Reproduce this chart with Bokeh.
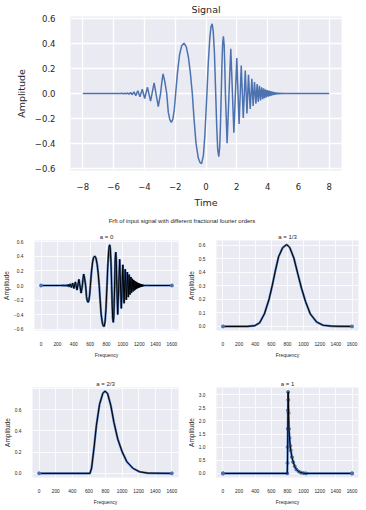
from bokeh.plotting import figure
from bokeh.layouts import column, row
from bokeh.models import Div, Spacer, FixedTicker, CustomJSTickFormatter
from bokeh.embed import file_html
from bokeh.resources import INLINE

# ---------------- data ----------------
# input signal: time (s) and amplitude at readable knots (extrema / crossings)
sig_t = [-8.0, -5.6,
         -5.43, -5.35, -5.27, -5.18, -5.09, -5.00, -4.90, -4.79, -4.68, -4.56,
         -4.43, -4.29, -4.14, -3.98, -3.80, -3.60, -3.37, -3.10,
         -2.95, -2.88, -2.79, -2.68, -2.55,
         -2.45, -2.35, -2.25, -2.15, -2.06, -1.97,
         -1.85, -1.72, -1.58, -1.43, -1.28, -1.14, -1.01, -0.89,
         -0.78, -0.65, -0.50, -0.39, -0.29, -0.17, -0.07, 0.06,
         0.15, 0.25, 0.33, 0.40, 0.47, 0.55, 0.63,
         0.70, 0.76, 0.83, 0.89, 0.94, 0.99,
         1.04, 1.08, 1.13, 1.18, 1.22, 1.26,
         1.37, 1.61, 1.81, 2.00, 2.15, 2.29, 2.42, 2.55, 2.66, 2.76, 2.87,
         2.98, 3.06, 3.15, 3.24, 3.32, 3.39, 3.47, 3.54, 3.61, 3.68, 3.74,
         3.80, 3.86, 3.92, 3.98, 4.04, 4.09, 4.15, 4.20, 4.25, 4.30, 4.35,
         4.40, 4.45, 4.50, 4.55, 4.60, 4.65, 4.70, 4.75, 4.80, 4.85, 4.90,
         4.95, 5.00, 5.05, 5.10, 8.0]
sig_y = [0.0, 0.0,
         0.0012, -0.0018, 0.0025, -0.0035, 0.0045, -0.006, 0.008, -0.010, 0.013, -0.017,
         0.022, -0.027, 0.034, -0.040, 0.050, -0.062, 0.085, -0.105,
         0.0, 0.08, 0.158, 0.10, 0.0,
         -0.15, -0.21, -0.232, -0.205, -0.13, 0.0,
         0.17, 0.31, 0.385, 0.405, 0.375, 0.29, 0.16, 0.0,
         -0.20, -0.40, -0.52, -0.556, -0.564, -0.50, -0.33, 0.0,
         0.25, 0.45, 0.54, 0.561, 0.50, 0.32, 0.0,
         -0.28, -0.45, -0.508, -0.43, -0.25, 0.0,
         0.25, 0.40, 0.46, 0.39, 0.22, 0.0,
         -0.40, 0.36, -0.315, 0.285, -0.245, 0.225, -0.198, 0.185, -0.16, 0.15, -0.125,
         0.118, -0.10, 0.093, -0.082, 0.076, -0.067, 0.062, -0.055, 0.05, -0.045, 0.041,
         -0.037, 0.034, -0.031, 0.028, -0.025, 0.023, -0.021, 0.019, -0.017, 0.015, -0.013,
         0.012, -0.011, 0.009, -0.008, 0.007, -0.006, 0.005, -0.0045, 0.004, -0.003, 0.0025,
         -0.002, 0.0015, -0.001, 0.0, 0.0]

# sample index of the input signal (100 samples per second, starting at t = -8)
samples_per_s = 100
t_start = -8.0

# |Frft|, a = 1/3
f13_x = [0, 300, 396, 455, 514, 573, 612, 651, 690, 741, 790, 828, 879, 926,
         973, 1024, 1082, 1161, 1240, 1340, 1450, 1600]
f13_y = [0.0, 0.0, 0.006, 0.027, 0.093, 0.204, 0.305, 0.416, 0.516, 0.583, 0.605,
         0.583, 0.505, 0.393, 0.283, 0.183, 0.093, 0.033, 0.009, 0.003, 0.001, 0.0]

# |Frft|, a = 2/3
f23_x = [0, 613, 632, 663, 690, 728, 767, 794, 825, 864, 902, 948, 999, 1057,
         1133, 1210, 1307, 1600]
f23_y = [0.0, 0.0, 0.049, 0.25, 0.45, 0.65, 0.753, 0.776, 0.753, 0.64, 0.48,
         0.322, 0.207, 0.11, 0.047, 0.015, 0.003, 0.0]

# |Frft|, a = 1
f1_x = [0, 797, 800, 802, 804, 806, 808, 810, 813, 818, 825, 833, 840, 855, 871,
        890, 910, 940, 968, 1000, 1030, 1600]
f1_y = [0.0, 0.0, 0.4, 1.0, 1.7, 2.4, 3.1, 2.8, 2.3, 1.7, 1.35, 1.05, 0.88, 0.62,
        0.43, 0.27, 0.15, 0.07, 0.03, 0.01, 0.0, 0.0]

sig_xticks = [-8, -6, -4, -2, 0, 2, 4, 6, 8]
sig_yticks = [-0.6, -0.4, -0.2, 0.0, 0.2, 0.4, 0.6]
freq_ticks = [0, 200, 400, 600, 800, 1000, 1200, 1400, 1600]
a0_yticks = [-0.6, -0.4, -0.2, 0.0, 0.2, 0.4, 0.6]
a13_yticks = [0.0, 0.1, 0.2, 0.3, 0.4, 0.5, 0.6]
a23_yticks = [0.0, 0.2, 0.4, 0.6, 0.8]
a1_yticks = [0.0, 0.5, 1.0, 1.5, 2.0, 2.5, 3.0]

# ---------------- styling ----------------
BG = "#EAEAF2"
BLUE = "#4C72B0"
TXT = "#262626"
F_TOP = "DejaVu Sans"
F_SUB = "Liberation Sans"

fmt1 = CustomJSTickFormatter(code="return tick.toFixed(1).replace('-', '\u2212');")
fmt0 = CustomJSTickFormatter(code="return tick.toFixed(0).replace('-', '\u2212');")


def style(p, font, tick_size, label_size, grid_w):
    p.background_fill_color = BG
    p.border_fill_color = "white"
    p.outline_line_color = None
    for ax in (p.xaxis[0], p.yaxis[0]):
        ax.axis_line_color = None
        ax.major_tick_line_color = None
        ax.minor_tick_line_color = None
        ax.major_label_text_font = font
        ax.major_label_text_font_size = tick_size
        ax.major_label_text_color = TXT
        ax.axis_label_text_font = font
        ax.axis_label_text_font_size = label_size
        ax.axis_label_text_font_style = "normal"
        ax.axis_label_text_color = TXT
    p.xgrid.grid_line_color = "white"
    p.ygrid.grid_line_color = "white"
    p.xgrid.grid_line_width = grid_w
    p.ygrid.grid_line_width = grid_w
    p.title.text_font = font
    p.title.text_font_style = "normal"
    p.title.text_color = TXT
    p.title.align = "center"


# ---------------- top: input signal ----------------
top = figure(width=360, height=210, output_backend="svg", toolbar_location=None,
             x_range=(-8.8, 8.8), y_range=(-0.62, 0.62), title="Signal",
             min_border_left=70, min_border_right=19, min_border_top=15,
             min_border_bottom=33)
style(top, F_TOP, "8.5px", "9.5px", 1.3)
top.title.text_font_size = "9.5px"
top.title.standoff = 3
top.xaxis[0].major_label_standoff = 6
top.xaxis[0].axis_label_standoff = 4
top.yaxis[0].major_label_standoff = 9
top.yaxis[0].axis_label_standoff = 5
top.xaxis[0].ticker = FixedTicker(ticks=sig_xticks)
top.yaxis[0].ticker = FixedTicker(ticks=sig_yticks)
top.xaxis[0].formatter = fmt0
top.yaxis[0].formatter = fmt1
top.xaxis[0].axis_label = "Time"
top.yaxis[0].axis_label = "Amplitude"
top.line(sig_t, sig_y, line_color=BLUE, line_width=1.5)

suptitle = Div(text="Frft of input signal with different fractional fourier orders",
               width=364, height=20, margin=0,
               styles={"font-size": "6px", "font-family": F_SUB,
                       "text-align": "center", "color": TXT, "width": "364px",
                       "line-height": "22px"})


def sub(title, x, y, yr, yticks, left, right, top_b, bottom, frame_w, frame_h,
        dots=False, hide=None):
    f = figure(width=left + frame_w + right, height=top_b + frame_h + bottom,
               output_backend="svg", toolbar_location=None,
               x_range=(-80, 1680), y_range=yr, title=title,
               min_border_left=left, min_border_right=right,
               min_border_top=top_b, min_border_bottom=bottom)
    style(f, F_SUB, "4.8px", "5px", 0.8)
    f.title.text_font_size = "6px"
    f.title.standoff = 1.5
    f.xaxis[0].major_label_standoff = 5
    f.xaxis[0].axis_label_standoff = 3
    f.yaxis[0].major_label_standoff = 5
    f.yaxis[0].axis_label_standoff = 1
    f.xaxis[0].ticker = FixedTicker(ticks=freq_ticks)
    f.yaxis[0].ticker = FixedTicker(ticks=yticks)
    f.yaxis[0].formatter = fmt1
    f.xaxis[0].axis_label = "Frequency"
    f.yaxis[0].axis_label = "Amplitude"
    f.yaxis[0].axis_label_text_font_size = "6.5px"
    if hide is not None:
        f.yaxis[0].major_label_overrides = {hide: ""}
    f.line(x, y, line_color=BLUE, line_width=2.2)
    if dots:
        f.scatter(x, y, size=3.0, color=BLUE)
    f.line(x, y, line_color="black", line_width=1.0)
    f.scatter([x[0], x[-1]], [y[0], y[-1]], size=3.0, color=BLUE)
    return f


a0_x = [(t - t_start) * samples_per_s for t in sig_t]

p0 = sub("a = 0", a0_x, sig_y, (-0.62, 0.62), a0_yticks, 27, 6, 9, 22, 151, 99)
p13 = sub("a = 1/3", f13_x, f13_y, (-0.03, 0.635), a13_yticks, 24, 6, 9, 22, 150, 99)
p23 = sub("a = 2/3", f23_x, f23_y, (-0.039, 0.81), a23_yticks, 27, 6, 11, 22, 151, 98,
          hide=0.8)
p1 = sub("a = 1", f1_x, f1_y, (-0.155, 3.27), a1_yticks, 24, 6, 11, 22, 150, 98,
         dots=True)

layout = column(top, suptitle, row(p0, p13), Spacer(height=16, width=364), row(p23, p1),
                spacing=0)

open("out.html", "w").write(file_html(layout, INLINE))
